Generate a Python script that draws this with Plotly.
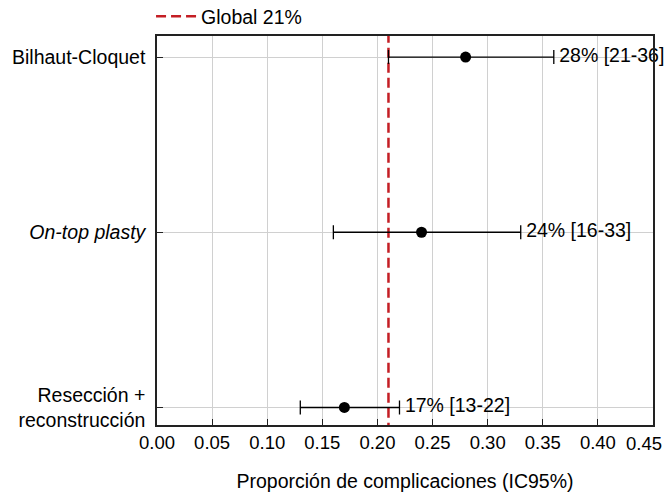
import plotly.graph_objects as go

categories = ["Bilhaut-Cloquet", "<i>On-top plasty</i>", "Resección +<br>reconstrucción"]
y_pos = [3, 2, 1]
estimate = [0.28, 0.24, 0.17]
lower = [0.21, 0.16, 0.13]
upper = [0.36, 0.33, 0.22]
labels = ["28% [21-36]", "24% [16-33]", "17% [13-22]"]
global_value = 0.21
global_label = "Global 21%"
x_ticks = [0.00, 0.05, 0.10, 0.15, 0.20, 0.25, 0.30, 0.35, 0.40, 0.45]
x_ticktext = ["0.00", "0.05", "0.10", "0.15", "0.20", "0.25", "0.30", "0.35", "0.40", "0.45"]

FONT = "Liberation Sans, Arial, sans-serif"
fig = go.Figure()

fig.add_trace(go.Scatter(
    x=[global_value, global_value], y=[0.0, 4.0], mode="lines",
    line=dict(color="#C41E24", width=2.5, dash="10px,5px"),
    name=global_label, showlegend=True, hoverinfo="skip"))

fig.add_trace(go.Scatter(
    x=estimate, y=y_pos, mode="markers",
    marker=dict(color="black", size=11),
    error_x=dict(type="data", symmetric=False,
                 array=[u - e for u, e in zip(upper, estimate)],
                 arrayminus=[e - l for e, l in zip(estimate, lower)],
                 color="black", thickness=1.3, width=7),
    showlegend=False))

fig.add_trace(go.Scatter(
    x=upper, y=y_pos, mode="text", text=[" " + s for s in labels],
    textposition="middle right",
    textfont=dict(family=FONT, size=19.5, color="black"),
    showlegend=False, cliponaxis=False))

# last tick label kept inside the page (right-aligned at the axis end)
shown_text = x_ticktext[:-1] + [""]
fig.add_annotation(x=x_ticks[-1], xref="x", y=0, yref="paper",
                   text=x_ticktext[-1], showarrow=False,
                   xanchor="right", yanchor="top", xshift=11, yshift=-6,
                   font=dict(family=FONT, size=18.5, color="black"))

fig.update_layout(
    width=667, height=496,
    margin=dict(l=157, r=14, t=36, b=71, autoexpand=False),
    plot_bgcolor="white", paper_bgcolor="white",
    font=dict(family=FONT, size=19, color="black"),
    legend=dict(orientation="h", x=-0.012, xanchor="left", y=1, yanchor="bottom",
                font=dict(size=19.5), bgcolor="rgba(0,0,0,0)", itemwidth=40),
    xaxis=dict(range=[0, 0.45], tickvals=x_ticks, ticktext=shown_text,
               tickfont=dict(size=18.5),
               showgrid=True, gridcolor="#d0d0d0", gridwidth=1,
               showline=True, linecolor="#222", linewidth=1.5, mirror=True,
               ticks="inside", ticklen=6, tickcolor="#222",
               zeroline=False, automargin=False, ticklabeloverflow="allow",
               title=dict(text="Proporción de complicaciones (IC95%)",
                          font=dict(size=19.5), standoff=22)),
    yaxis=dict(range=[0.9, 3.12], tickvals=y_pos, ticktext=categories,
               tickfont=dict(size=19.5), ticklabelstandoff=6,
               showgrid=True, gridcolor="#d0d0d0", gridwidth=1,
               showline=True, linecolor="#222", linewidth=1.5, mirror=True,
               ticks="inside", ticklen=6, tickcolor="#222", zeroline=False,
               automargin=False),
)

fig.write_html("out.html", config={"displayModeBar": False},
               post_script="document.body.style.margin='0px';document.body.style.overflow='hidden';")
